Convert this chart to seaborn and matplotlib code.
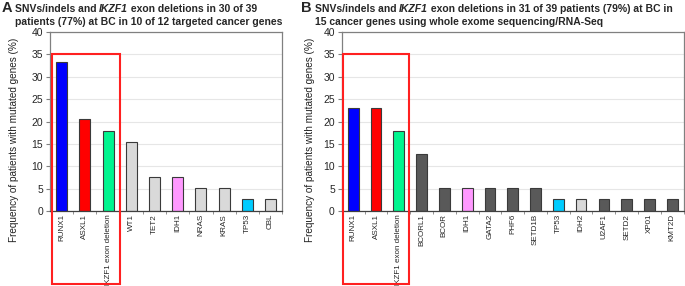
import numpy as np
import pandas as pd
import matplotlib
matplotlib.use("Agg")
import matplotlib.pyplot as plt
import seaborn as sns
from matplotlib.patches import Rectangle

# panel A: targeted sequencing
genes_a = ["RUNX1", "ASXL1", "IKZF1 exon deletion", "WT1", "TET2", "IDH1",
           "NRAS", "KRAS", "TP53", "CBL"]
freq_a = [33.3, 20.5, 17.9, 15.4, 7.7, 7.7, 5.1, 5.1, 2.6, 2.6]

# panel B: whole exome / RNA-Seq
genes_b = ["RUNX1", "ASXL1", "IKZF1 exon deletion", "BCORL1", "BCOR", "IDH1",
           "GATA2", "PHF6", "SETD1B", "TP53", "IDH2", "U2AF1", "SETD2",
           "XP01", "KMT2D"]
freq_b = [23.1, 23.1, 17.9, 12.8, 5.1, 5.1, 5.1, 5.1, 5.1, 2.6, 2.6,
          2.6, 2.6, 2.6, 2.6]

special = {"RUNX1": "#0000FF", "ASXL1": "#FF0000",
           "IKZF1 exon deletion": "#00F58F", "IDH1": "#FF99FF",
           "TP53": "#00CCFF", "IDH2": "#D9D9D9"}

sns.set_style("white")
plt.rcParams["font.family"] = ["Liberation Sans", "DejaVu Sans"]

fig = plt.figure(figsize=(6.85, 2.86), dpi=100)
ax_a = fig.add_axes([0.073, 0.262, 0.339, 0.626])
ax_b = fig.add_axes([0.499, 0.262, 0.499, 0.626])


def draw(ax, genes, freq, other, lab_x):
    df = pd.DataFrame({"gene": genes, "freq": freq})
    pal = {g: special.get(g, other) for g in genes}
    sns.barplot(data=df, x="gene", y="freq", hue="gene", palette=pal,
                legend=False, width=0.47, edgecolor="#3a3a3a",
                linewidth=0.8, ax=ax, saturation=1)
    ax.set_ylim(0, 40)
    ax.set_xlim(-0.5, len(genes) - 0.5)
    ax.set_yticks(range(0, 45, 5))
    ax.yaxis.grid(True, color="#e6e6e6", linewidth=0.8)
    ax.set_axisbelow(True)
    for s in ax.spines.values():
        s.set_color("#808080")
        s.set_linewidth(0.9)
    ax.spines["bottom"].set_color("#404040")
    ax.set_xlabel("")
    ax.set_ylabel("Frequency of patients with mutated genes (%)", fontsize=7.2,
                  color="#222222")
    ax.yaxis.set_label_coords(lab_x, 0.40)
    ax.tick_params(axis="x", rotation=90, labelsize=5.8, length=0, pad=2)
    ax.tick_params(axis="y", labelsize=7.5, length=3, direction="out",
                   color="#808080", left=True, pad=2)
    ax.set_xticks(np.arange(len(genes)) + 0.5, minor=True)
    ax.tick_params(axis="x", which="minor", bottom=True, length=2.5,
                   direction="out", color="#808080")


# label x in axes fraction: ~20 px and ~315 px from the left of the picture
draw(ax_a, genes_a, freq_a, "#D9D9D9", -31 / 232)
draw(ax_b, genes_b, freq_b, "#595959", -27 / 342)

# red boxes around the first three genes, reaching below into the labels
fig.canvas.draw()
inv = fig.transFigure.inverted()
for ax, x0, x1 in [(ax_a, -0.42, 2.52), (ax_b, -0.45, 2.46)]:
    p0 = inv.transform(ax.transData.transform((x0, 35)))
    p1 = inv.transform(ax.transData.transform((x1, 35)))
    bottom = 0.008
    fig.patches.append(Rectangle((p0[0], bottom), p1[0] - p0[0], p0[1] - bottom,
                                 transform=fig.transFigure, fill=False,
                                 edgecolor="#FF2020", linewidth=1.5))


def title(x, letter, l1a, l1b, l1c, l2):
    fs = 7.5
    fig.text(x, 0.958, letter, fontsize=10.5, fontweight="bold", va="baseline")
    t = fig.text(x + 0.0195, 0.958, l1a, fontsize=fs, fontweight="bold",
                 va="baseline")
    t2 = fig.text(0, 0.958, l1b, fontsize=fs, fontweight="bold",
                  style="italic", va="baseline")
    fig.canvas.draw()
    bb = t.get_window_extent()
    t2.set_x(inv.transform((bb.x1, 0))[0])
    fig.canvas.draw()
    bb2 = t2.get_window_extent()
    fig.text(inv.transform((bb2.x1, 0))[0], 0.958, l1c, fontsize=fs,
             fontweight="bold", va="baseline")
    fig.text(x + 0.0195, 0.912, l2, fontsize=fs, fontweight="bold",
             va="baseline")


title(0.002, "A", "SNVs/indels and ", "IKZF1", " exon deletions in 30 of 39",
      "patients (77%) at BC in 10 of 12 targeted cancer genes")
title(0.440, "B", "SNVs/indels and ", "IKZF1",
      " exon deletions in 31 of 39 patients (79%) at BC in",
      "15 cancer genes using whole exome sequencing/RNA-Seq")

fig.savefig("out.png", dpi=100)
